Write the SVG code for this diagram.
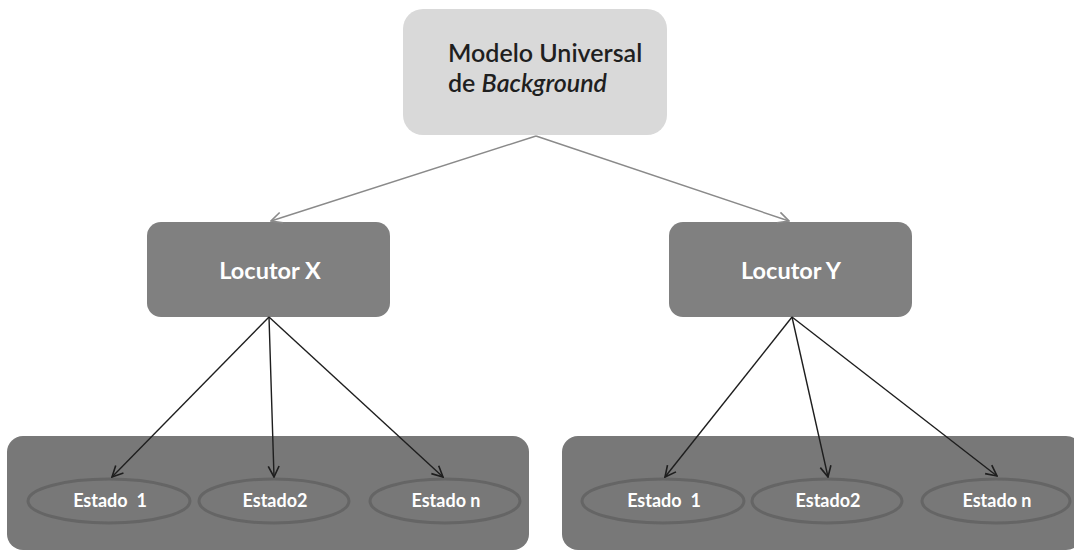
<svg xmlns="http://www.w3.org/2000/svg" width="1074" height="550" viewBox="0 0 1074 550">
  <defs>
    <marker id="darkArrow" viewBox="0 0 12 12" refX="11" refY="6" markerWidth="13" markerHeight="13" markerUnits="userSpaceOnUse" orient="auto">
      <path d="M1,1 L11,6 L1,11" fill="none" stroke="#1e1e1e" stroke-width="1.5"/>
    </marker>
    <marker id="grayArrow" viewBox="0 0 12 12" refX="11" refY="6" markerWidth="13" markerHeight="13" markerUnits="userSpaceOnUse" orient="auto">
      <path d="M1,1 L11,6 L1,11" fill="none" stroke="#8a8a8a" stroke-width="1.5"/>
    </marker>
  </defs>
  <style>
    .root { fill: #d9d9d9; }
    .speaker { fill: #808080; }
    .group { fill: #787878; }
    .state { fill: #787878; stroke: #656565; stroke-width: 3; }
    .rootText { font-family: Lato, "Open Sans", sans-serif; font-size: 25px; font-weight: 600; fill: #1f1f1f; }
    .speakerText { font-family: Lato, "Open Sans", sans-serif; font-size: 23.5px; font-weight: bold; fill: #ffffff; text-anchor: middle; }
    .stateText { font-family: Lato, "Open Sans", sans-serif; font-size: 18px; font-weight: bold; fill: #ffffff; text-anchor: middle; white-space: pre; }
    .linkTop { stroke: #8a8a8a; stroke-width: 1.4; fill: none; marker-end: url(#grayArrow); }
    .linkDown { stroke: #1e1e1e; stroke-width: 1.4; fill: none; marker-end: url(#darkArrow); }
  </style>

  <rect width="1074" height="550" fill="#ffffff"/>

  <!-- state containers -->
  <g id="statesX">
    <rect class="group" x="7" y="436" width="522" height="114" rx="16"/>
    <g id="stateX1">
      <ellipse class="state" cx="109" cy="501" rx="81" ry="22"/>
      <text class="stateText" x="110" y="507">Estado  1</text>
    </g>
    <g id="stateX2">
      <ellipse class="state" cx="274" cy="501" rx="75" ry="22"/>
      <text class="stateText" x="275" y="507">Estado2</text>
    </g>
    <g id="stateXn">
      <ellipse class="state" cx="445" cy="501" rx="75" ry="22"/>
      <text class="stateText" x="446" y="507">Estado n</text>
    </g>
  </g>

  <g id="statesY">
    <rect class="group" x="562" y="436" width="520" height="114" rx="16"/>
    <g id="stateY1">
      <ellipse class="state" cx="663" cy="501" rx="81" ry="22"/>
      <text class="stateText" x="664" y="507">Estado  1</text>
    </g>
    <g id="stateY2">
      <ellipse class="state" cx="827" cy="501" rx="75" ry="22"/>
      <text class="stateText" x="828" y="507">Estado2</text>
    </g>
    <g id="stateYn">
      <ellipse class="state" cx="996" cy="501" rx="74" ry="22"/>
      <text class="stateText" x="997" y="507">Estado n</text>
    </g>
  </g>

  <!-- background model -->
  <g id="ubm">
    <rect class="root" x="403" y="9" width="264" height="126" rx="20"/>
    <text class="rootText" x="448" y="62">Modelo Universal</text>
    <text class="rootText" x="448" y="92">de <tspan font-style="italic">Background</tspan></text>
  </g>

  <!-- speakers -->
  <g id="speakerX">
    <rect class="speaker" x="147" y="222" width="243" height="95" rx="14"/>
    <text class="speakerText" x="270" y="279">Locutor X</text>
  </g>
  <g id="speakerY">
    <rect class="speaker" x="669" y="222" width="243" height="95" rx="14"/>
    <text class="speakerText" x="791" y="279">Locutor Y</text>
  </g>

  <!-- connectors -->
  <g id="connectors">
    <line class="linkTop" x1="536" y1="136" x2="271" y2="221"/>
    <line class="linkTop" x1="536" y1="136" x2="789" y2="221"/>

    <line class="linkDown" x1="269" y1="317" x2="112" y2="477"/>
    <line class="linkDown" x1="269" y1="317" x2="274" y2="477"/>
    <line class="linkDown" x1="269" y1="317" x2="443" y2="477"/>

    <line class="linkDown" x1="792" y1="317" x2="665" y2="477"/>
    <line class="linkDown" x1="792" y1="317" x2="828" y2="477"/>
    <line class="linkDown" x1="792" y1="317" x2="997" y2="476"/>
  </g>
</svg>
